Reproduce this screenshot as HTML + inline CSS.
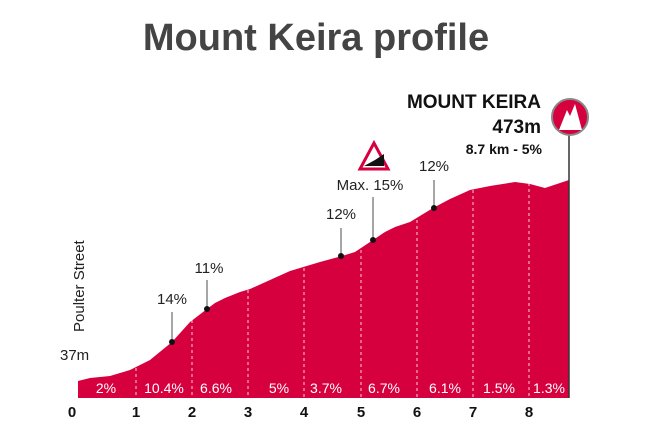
<!DOCTYPE html><html><head><style>body{margin:0;background:#fff}svg{display:block}text{font-family:"Liberation Sans",sans-serif}</style></head><body>
<svg width="651" height="440" viewBox="0 0 651 440">
<text x="316" y="50" text-anchor="middle" font-size="38" font-weight="bold" fill="#444">Mount Keira profile</text>
<path d="M78 398 L78 381 L90 378 L110 376 L130 370 L150 360 L172 342 L190 322 L207 309 L215 303 L225 298 L240 292 L250 289 L270 280 L290 271 L300 268 L320 262 L342 256 L355 252 L373 240 L385 232 L395 227 L410 222 L433 208 L450 199 L470 190 L490 186 L515 182 L530 184 L545 188 L569 180 L569 398 Z" fill="#d6003f"/>
<g stroke="#fff" stroke-dasharray="3,3" stroke-width="1" opacity="0.8">
<line x1="136" y1="368" x2="136" y2="398"/><line x1="192" y1="320" x2="192" y2="398"/><line x1="248" y1="290" x2="248" y2="398"/><line x1="304" y1="268" x2="304" y2="398"/><line x1="361" y1="250" x2="361" y2="398"/><line x1="417" y1="220" x2="417" y2="398"/><line x1="473" y1="190" x2="473" y2="398"/><line x1="529" y1="183" x2="529" y2="398"/></g>
<line x1="569" y1="135" x2="569" y2="398" stroke="#333" stroke-width="1.5"/>
<g fill="#fff" font-size="14" text-anchor="middle">
<text x="106" y="393">2%</text><text x="164" y="393">10.4%</text><text x="216" y="393">6.6%</text><text x="279" y="393">5%</text><text x="326" y="393">3.7%</text><text x="384" y="393">6.7%</text><text x="445" y="393">6.1%</text><text x="499" y="393">1.5%</text><text x="549" y="393">1.3%</text></g>
<g font-size="15" font-weight="bold" fill="#111" text-anchor="middle">
<text x="72" y="417">0</text><text x="136" y="417">1</text><text x="192" y="417">2</text><text x="248" y="417">3</text><text x="304" y="417">4</text><text x="361" y="417">5</text><text x="417" y="417">6</text><text x="473" y="417">7</text><text x="529" y="417">8</text></g>
<g stroke="#888" stroke-width="1.5"><line x1="172" y1="312" x2="172" y2="341"/><line x1="207" y1="280" x2="207" y2="309"/><line x1="341" y1="228" x2="341" y2="255"/><line x1="373" y1="197" x2="373" y2="240"/><line x1="434" y1="180" x2="434" y2="208"/></g>
<g fill="#111"><circle cx="172" cy="342" r="3"/><circle cx="207" cy="309" r="3"/><circle cx="341" cy="256" r="3"/><circle cx="373" cy="240" r="3"/><circle cx="434" cy="208" r="3"/></g>
<g font-size="15" fill="#222" text-anchor="middle"><text x="172" y="304">14%</text><text x="209" y="273">11%</text><text x="341" y="219">12%</text><text x="370" y="190">Max. 15%</text><text x="434" y="171">12%</text></g>
<polygon points="374,143 360,169 388,169" fill="#fff" stroke="#d6003f" stroke-width="3"/>
<polygon points="364,166 384,166 384,154 375,160" fill="#111"/>
<text x="84" y="332" font-size="15" fill="#222" transform="rotate(-90 84 332)">Poulter Street</text>
<text x="60" y="360" font-size="15" fill="#222">37m</text>
<g text-anchor="end" fill="#111" font-weight="bold"><text x="541" y="108" font-size="19">MOUNT KEIRA</text><text x="541" y="133" font-size="19">473m</text><text x="542" y="154" font-size="14">8.7 km - 5%</text></g>
<circle cx="570" cy="117" r="18" fill="#d6003f" stroke="#888" stroke-width="2"/>
<polygon points="559,130 567,110 570,116 575,104 582,130" fill="#fff"/>
</svg></body></html>
